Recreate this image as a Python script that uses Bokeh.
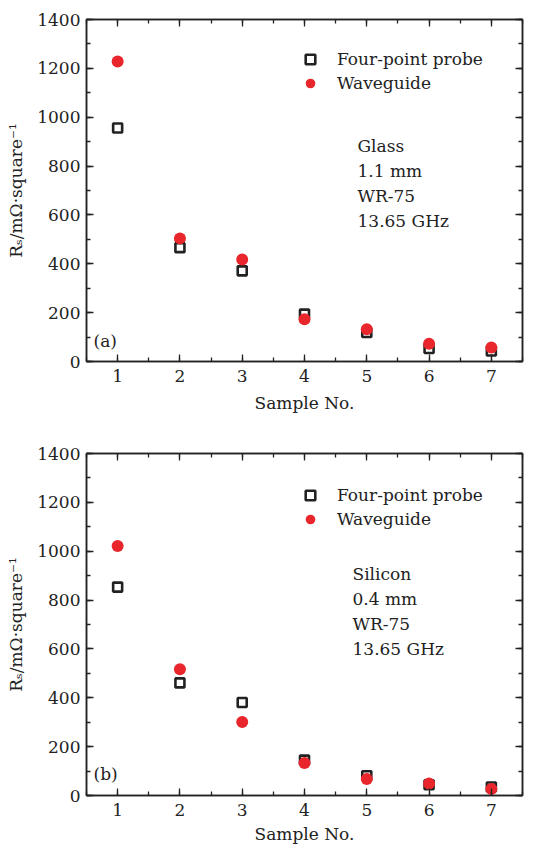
from bokeh.plotting import figure
from bokeh.models import (Range1d, SingleIntervalTicker, LinearAxis, Legend,
                          LegendItem, Label, ColumnDataSource)
from bokeh.layouts import column
from bokeh.embed import file_html
from bokeh.resources import INLINE

# ---- data ----
samples = [1, 2, 3, 4, 5, 6, 7]
glass_four_point = [956, 466, 371, 194, 119, 53, 43]
glass_waveguide = [1228, 504, 418, 173, 132, 73, 57]
silicon_four_point = [853, 461, 381, 145, 81, 44, 35]
silicon_waveguide = [1021, 517, 301, 133, 68, 49, 27]
y_tick_values = [0, 200, 400, 600, 800, 1000, 1200, 1400]
series_names = ["Four-point probe", "Waveguide"]
notes_a = ["Glass", "1.1 mm", "WR-75", "13.65 GHz"]
notes_b = ["Silicon", "0.4 mm", "WR-75", "13.65 GHz"]
panel_tags = ["(a)", "(b)"]
x_label = "Sample No."
y_label = "R\u209b/m\u03a9\u00b7square\u207b\u00b9"

FONT = "DejaVu Serif"
FS = "17px"
RED = "#e8262b"
INK = "#222222"


def style_axis(ax, tick_values=None):
    ax.axis_line_color = INK
    ax.axis_line_width = 1.5
    ax.major_tick_line_color = INK
    ax.minor_tick_line_color = INK
    ax.major_tick_line_width = 1.3
    ax.minor_tick_line_width = 1.3
    ax.major_tick_in = 7
    ax.major_tick_out = 0
    ax.minor_tick_in = 4
    ax.minor_tick_out = 0
    ax.major_label_text_font = FONT
    ax.major_label_text_color = INK
    ax.major_label_text_font_size = FS
    ax.axis_label_text_font = FONT
    ax.axis_label_text_font_style = "normal"
    ax.axis_label_text_font_size = FS
    ax.axis_label_text_color = INK
    if tick_values is not None:
        ax.major_label_overrides = {v: "" for v in tick_values}
        ax.major_label_standoff = 0


def make_panel(fpp, wg, notes, tag, height, bottom, note_x, note_y0, tag_y,
               legend_y, xlabel_standoff):
    p = figure(width=549, height=height, output_backend="svg",
               toolbar_location=None, x_range=Range1d(0.5, 7.5),
               y_range=Range1d(0, 1400), x_axis_type=None, y_axis_type=None,
               min_border_left=86, min_border_right=27, min_border_top=19,
               min_border_bottom=bottom)
    p.grid.visible = False
    p.outline_line_color = INK
    p.outline_line_width = 1.5
    p.background_fill_color = "white"
    p.border_fill_color = "white"

    xt = lambda: SingleIntervalTicker(interval=1, num_minor_ticks=2)
    yt = lambda: SingleIntervalTicker(interval=200, num_minor_ticks=2)

    bx = LinearAxis(ticker=xt(), axis_label=x_label)
    style_axis(bx)
    bx.major_label_standoff = 8
    bx.axis_label_standoff = xlabel_standoff
    p.add_layout(bx, "below")

    ly = LinearAxis(ticker=yt(), axis_label=y_label)
    style_axis(ly)
    ly.major_label_standoff = 6
    ly.axis_label_standoff = 8
    p.add_layout(ly, "left")

    tx = LinearAxis(ticker=xt())
    style_axis(tx, samples)
    p.add_layout(tx, "above")
    ry = LinearAxis(ticker=yt())
    style_axis(ry, y_tick_values)
    p.add_layout(ry, "right")

    src = ColumnDataSource(dict(x=samples, fpp=fpp, wg=wg))
    r1 = p.scatter("x", "fpp", source=src, marker="square", size=9,
                   fill_color=None, line_color=INK, line_width=2.6)
    r2 = p.scatter("x", "wg", source=src, marker="circle", size=12,
                   fill_color=RED, line_color=None)

    legend = Legend(items=[LegendItem(label=series_names[0], renderers=[r1]),
                           LegendItem(label=series_names[1], renderers=[r2])],
                    location=(212, legend_y))
    legend.border_line_color = None
    legend.background_fill_alpha = 0
    legend.label_text_font = FONT
    legend.label_text_font_size = FS
    legend.label_text_color = INK
    legend.glyph_width = 24
    legend.glyph_height = 24
    legend.label_height = 24
    legend.label_standoff = 15
    legend.spacing = 0
    legend.padding = 0
    legend.margin = 0
    p.add_layout(legend, "center")

    for i, t in enumerate(notes):
        p.add_layout(Label(x=note_x, y=note_y0 - 25 * i, x_units="screen",
                           y_units="screen", text=t, text_font=FONT,
                           text_font_size=FS, text_color=INK,
                           text_baseline="middle", text_align="left"))
    p.add_layout(Label(x=7, y=tag_y, x_units="screen", y_units="screen",
                       text=tag, text_font=FONT, text_font_size=FS,
                       text_color=INK, text_baseline="middle",
                       text_align="left"))
    return p


pa = make_panel(glass_four_point, glass_waveguide, notes_a, panel_tags[0],
                434, 73, 271, 216, 21, 266, 8)
pb = make_panel(silicon_four_point, silicon_waveguide, notes_b, panel_tags[1],
                413, 52, 266, 222, 22, 264, 5)

layout = column(pa, pb, spacing=0)
open("out.html", "w").write(file_html(layout, INLINE))
